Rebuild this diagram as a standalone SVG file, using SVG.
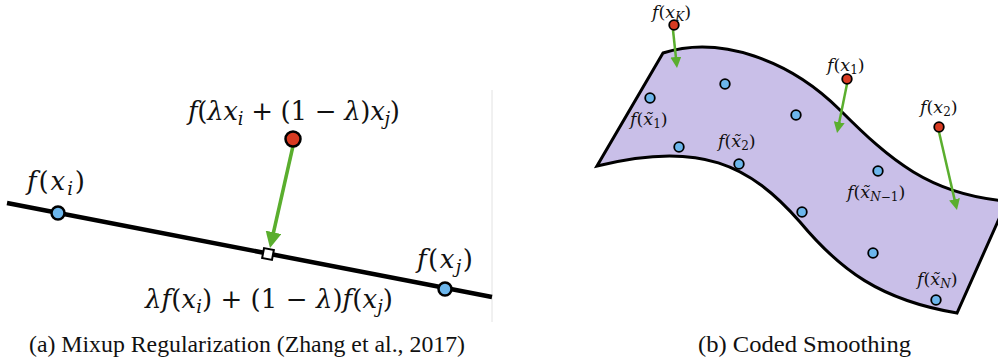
<svg xmlns="http://www.w3.org/2000/svg" width="998" height="360" viewBox="0 0 998 360">
<style>
  .m { font-family: "DejaVu Serif", serif; fill: #111; }
  .cap { font-family: "Liberation Serif", serif; font-size: 23px; fill: #111; }
  .i { font-style: italic; }
  .L { font-size: 26px; }
  .S { font-size: 17.5px; }
  .blue { fill: #6cb6ec; stroke: #000; }
  .red { fill: #d83b22; stroke: #000; }
  .arrow { stroke: #5aae2e; fill: none; }
</style>
<defs>
  <marker id="ahL" markerUnits="userSpaceOnUse" markerWidth="16" markerHeight="16" viewBox="0 0 10 10" refX="2" refY="5" orient="auto">
    <path d="M0,0 L10,5 L0,10 Z" fill="#5aae2e"/>
  </marker>
  <marker id="ahS" markerUnits="userSpaceOnUse" markerWidth="11" markerHeight="11" viewBox="0 0 10 10" refX="2" refY="5" orient="auto">
    <path d="M0,0 L10,5 L0,10 Z" fill="#5aae2e"/>
  </marker>
</defs>
<rect width="998" height="360" fill="#fff"/>

<!-- Panel (a) -->
<line x1="492" y1="90" x2="492" y2="322" stroke="#e2e2e2" stroke-width="1"/>
<g id="mixup-line">
  <line x1="7" y1="203" x2="492" y2="297" stroke="#000" stroke-width="4.5"/>
</g>

<!-- Panel (b) surface -->
<g id="manifold">
  <path d="M663,53 C720,35 790,60 840,110 C890,160 930,195 1007,201 L957,313 C880,300 840,270 800,222 C750,165 700,140 597,166 Z" fill="#c9bfe8" stroke="#000" stroke-width="3" stroke-linejoin="miter"/>
</g>

<g id="connectors">
  <line class="arrow" x1="293" y1="146" x2="272.8" y2="235.5" stroke-width="3.5" marker-end="url(#ahL)"/>
  <line class="arrow" x1="673" y1="30" x2="676.1" y2="59.2" stroke-width="2.5" marker-end="url(#ahS)"/>
  <line class="arrow" x1="847" y1="84" x2="838.8" y2="124.4" stroke-width="2.5" marker-end="url(#ahS)"/>
  <line class="arrow" x1="939" y1="132" x2="955.0" y2="201.4" stroke-width="2.5" marker-end="url(#ahS)"/>
</g>

<g id="fxi">
  <circle class="blue" cx="58" cy="213" r="6.5" stroke-width="2.5"/>
  <text class="m L" x="27" y="190" textLength="58" lengthAdjust="spacing"><tspan class="i">f</tspan>(<tspan class="i">x</tspan><tspan class="i" font-size="18" dy="5">i</tspan><tspan dy="-5">)</tspan></text>
</g>
<g id="fxj">
  <circle class="blue" cx="445" cy="289" r="6.5" stroke-width="2.5"/>
  <text class="m L" x="417" y="268" textLength="56" lengthAdjust="spacing"><tspan class="i">f</tspan>(<tspan class="i">x</tspan><tspan class="i" font-size="18" dy="5">j</tspan><tspan dy="-5">)</tspan></text>
</g>
<g id="fmix">
  <circle class="red" cx="293" cy="139" r="7.5" stroke-width="2.5"/>
  <text class="m L" x="188" y="120" textLength="212" lengthAdjust="spacing"><tspan class="i">f</tspan>(<tspan class="i">λx</tspan><tspan class="i" font-size="18" dy="5">i</tspan><tspan dy="-5"> + (1 − </tspan><tspan class="i">λ</tspan>)<tspan class="i">x</tspan><tspan class="i" font-size="18" dy="5">j</tspan><tspan dy="-5">)</tspan></text>
</g>
<g id="interp">
  <rect x="-5" y="-5" width="10" height="10" fill="#fff" stroke="#000" stroke-width="2" transform="translate(268,254) rotate(10.9)"/>
  <text class="m L" x="145" y="308" textLength="248" lengthAdjust="spacing"><tspan class="i">λf</tspan>(<tspan class="i">x</tspan><tspan class="i" font-size="18" dy="5">i</tspan><tspan dy="-5">) + (1 − </tspan><tspan class="i">λ</tspan>)<tspan class="i">f</tspan>(<tspan class="i">x</tspan><tspan class="i" font-size="18" dy="5">j</tspan><tspan dy="-5">)</tspan></text>
</g>
<text class="cap" x="29" y="352" textLength="436" lengthAdjust="spacingAndGlyphs">(a) Mixup Regularization (Zhang et al., 2017)</text>

<!-- Panel (b) points -->
<g id="dots">
  <circle class="blue" cx="725" cy="84" r="4.8" stroke-width="1.8"/>
  <circle class="blue" cx="650" cy="98" r="4.8" stroke-width="1.8"/>
  <circle class="blue" cx="796" cy="115" r="4.8" stroke-width="1.8"/>
  <circle class="blue" cx="679" cy="147" r="4.8" stroke-width="1.8"/>
  <circle class="blue" cx="739" cy="164" r="4.8" stroke-width="1.8"/>
  <circle class="blue" cx="878" cy="171" r="4.8" stroke-width="1.8"/>
  <circle class="blue" cx="802" cy="212" r="4.8" stroke-width="1.8"/>
  <circle class="blue" cx="873" cy="253" r="4.8" stroke-width="1.8"/>
  <circle class="blue" cx="936" cy="300" r="4.8" stroke-width="1.8"/>
</g>
<g id="fxK">
  <circle class="red" cx="674" cy="25" r="4.8" stroke-width="1.8"/>
  <text class="m S" x="652" y="18"><tspan class="i">f</tspan>(<tspan class="i">x</tspan><tspan class="i" font-size="12" dy="3">K</tspan><tspan dy="-3">)</tspan></text>
</g>
<g id="fx1">
  <circle class="red" cx="847" cy="79" r="4.8" stroke-width="1.8"/>
  <text class="m S" x="827" y="71"><tspan class="i">f</tspan>(<tspan class="i">x</tspan><tspan font-size="12" dy="3">1</tspan><tspan dy="-3">)</tspan></text>
</g>
<g id="fx2">
  <circle class="red" cx="939" cy="127" r="4.8" stroke-width="1.8"/>
  <text class="m S" x="920" y="113"><tspan class="i">f</tspan>(<tspan class="i">x</tspan><tspan font-size="12" dy="3">2</tspan><tspan dy="-3">)</tspan></text>
</g>
<g id="labels-coded">
  <text class="m S" x="630" y="125"><tspan class="i">f</tspan>(<tspan class="i">x̃</tspan><tspan font-size="12" dy="3">1</tspan><tspan dy="-3">)</tspan></text>
  <text class="m S" x="718" y="147"><tspan class="i">f</tspan>(<tspan class="i">x̃</tspan><tspan font-size="12" dy="3">2</tspan><tspan dy="-3">)</tspan></text>
  <text class="m S" x="847" y="198"><tspan class="i">f</tspan>(<tspan class="i">x̃</tspan><tspan font-size="12" dy="3"><tspan class="i">N</tspan>−1</tspan><tspan dy="-3">)</tspan></text>
  <text class="m S" x="917" y="285"><tspan class="i">f</tspan>(<tspan class="i">x̃</tspan><tspan class="i" font-size="12" dy="3">N</tspan><tspan dy="-3">)</tspan></text>
</g>
<text class="cap" x="698" y="352" textLength="213" lengthAdjust="spacingAndGlyphs">(b) Coded Smoothing</text>
</svg>
